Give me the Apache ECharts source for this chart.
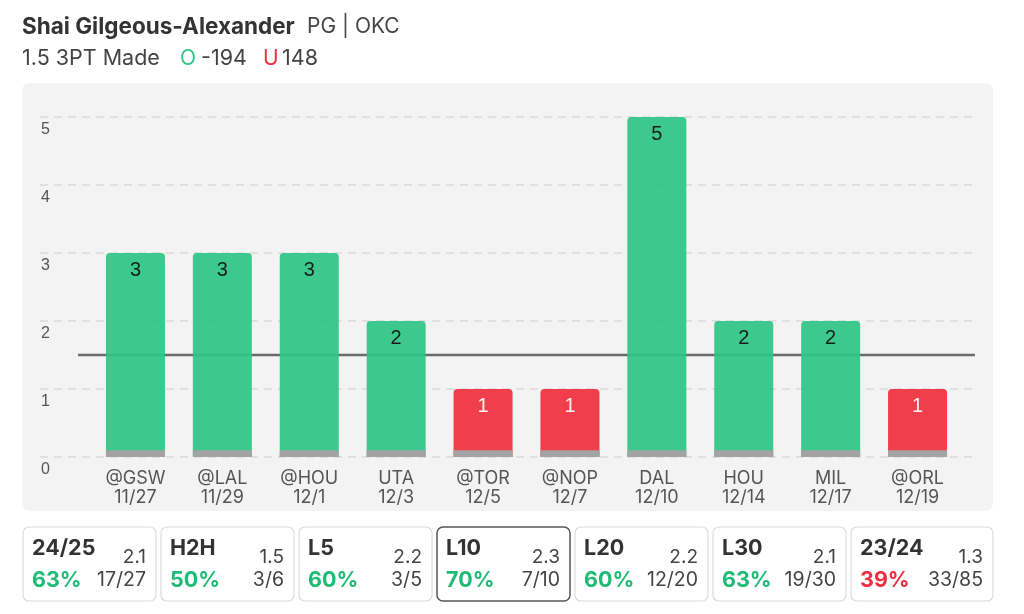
<!DOCTYPE html>
<html>
<head>
<meta charset="utf-8">
<script src="https://cdn.jsdelivr.net/npm/echarts@6/dist/echarts.min.js"></script>
<style>
html,body{margin:0;padding:0;background:#fff;}
#c{width:1024px;height:614px;}
</style>
</head>
<body>
<div id="c"></div>
<script>
// ---- data ----
const opponents = ['@GSW','@LAL','@HOU','UTA','@TOR','@NOP','DAL','HOU','MIL','@ORL'];
const dates = ['11/27','11/29','12/1','12/3','12/5','12/7','12/10','12/14','12/17','12/19'];
const threesMade = [3,3,3,2,1,1,5,2,2,1];
const propLine = 1.5;
const yTicks = [0,1,2,3,4,5];
const baseStrip = 0.1;

const playerName = 'Shai Gilgeous-Alexander';
const playerInfo = 'PG | OKC';
const propText = '1.5 3PT Made';
const overOdds = '-194';
const underOdds = '148';

const cardLabels = ['24/25','H2H','L5','L10','L20','L30','23/24'];
const cardAvgs = ['2.1','1.5','2.2','2.3','2.2','2.1','1.3'];
const cardPcts = [63,50,60,70,60,63,39];
const cardFracs = ['17/27','3/6','3/5','7/10','12/20','19/30','33/85'];
const selectedCard = 3;

// ---- style ----
const GREEN = '#2ec584';
const RED = '#ef2f40';
const PCT_GREEN = '#1fbb74';
const HEAD = '"Inter", "Noto Sans", sans-serif';
const AX = '"Liberation Sans", Arial, sans-serif';

const chart = echarts.init(document.getElementById('c'), null, {renderer:'canvas'});

const graphics = [
  {type:'rect', z:-100, shape:{x:22,y:83,width:971,height:428,r:8}, style:{fill:'#f3f3f3'}},
  {type:'text', x:22, y:27, style:{text:playerName, font:'bold 22.5px '+HEAD, fill:'#333', verticalAlign:'middle'}},
  {type:'text', x:307, y:27, style:{text:playerInfo, font:'21px '+HEAD, fill:'#444', verticalAlign:'middle'}},
  {type:'text', x:22, y:59, style:{text:propText, font:'21.5px '+HEAD, fill:'#444', verticalAlign:'middle'}},
  {type:'text', x:180, y:59, style:{text:'O', font:'21px '+HEAD, fill:GREEN, verticalAlign:'middle'}},
  {type:'text', x:201, y:59, style:{text:overOdds, font:'21.5px '+HEAD, fill:'#444', verticalAlign:'middle'}},
  {type:'text', x:263, y:59, style:{text:'U', font:'21px '+HEAD, fill:RED, verticalAlign:'middle'}},
  {type:'text', x:282, y:59, style:{text:underOdds, font:'21.5px '+HEAD, fill:'#444', verticalAlign:'middle'}}
];

cardLabels.forEach((lab, i) => {
  const x = 23 + i*138;
  const w = i === cardLabels.length-1 ? 142 : 133;
  const sel = i === selectedCard;
  graphics.push({type:'rect', shape:{x:x,y:527,width:w,height:74,r:6},
    style:{fill:'#fff', stroke: sel ? '#555' : '#dcdcdc', lineWidth: sel ? 1.5 : 1.2}});
  graphics.push({type:'text', x:x+9, y:549, style:{text:lab, font:'bold 21.5px '+HEAD, fill:'#333', verticalAlign:'middle'}});
  graphics.push({type:'text', x:x+w-10, y:557, style:{text:cardAvgs[i], font:'19px '+HEAD, fill:'#444', align:'right', verticalAlign:'middle'}});
  graphics.push({type:'text', x:x+9, y:581, style:{text:cardPcts[i]+'%', font:'bold 21.5px '+HEAD, fill: cardPcts[i] >= 50 ? PCT_GREEN : RED, verticalAlign:'middle'}});
  graphics.push({type:'text', x:x+w-10, y:580, style:{text:cardFracs[i], font:'19.5px '+HEAD, fill:'#444', align:'right', verticalAlign:'middle'}});
});

const option = {
  animation:false,
  backgroundColor:'#fff',
  graphic:{elements:graphics},
  grid:[
    {left:40, right:49, top:117, height:340},
    {left:92, right:63, top:117, height:340},
    {left:78, right:49, top:117, height:340}
  ],
  xAxis:[
    {gridIndex:0, type:'value', min:0, max:1, show:false},
    {gridIndex:1, type:'category', data:opponents.map((o,i)=>o+'\n'+dates[i]),
      axisLine:{show:false}, axisTick:{show:false},
      axisLabel:{color:'#555', fontSize:18, fontFamily:HEAD, lineHeight:19, margin:12}},
    {gridIndex:2, type:'category', data:['a','b'], boundaryGap:false, show:false}
  ],
  yAxis:[
    {gridIndex:0, type:'value', min:yTicks[0], max:yTicks[yTicks.length-1], interval:1,
      axisLine:{show:false}, axisTick:{show:false},
      splitLine:{show:true, lineStyle:{color:'#dadada', width:1.5, type:[8,6]}},
      axisLabel:{inside:true, margin:1, color:'#555', fontSize:16, fontFamily:AX, verticalAlign:'top', padding:[5,0,0,0]}},
    {gridIndex:1, type:'value', min:0, max:5, show:false},
    {gridIndex:2, type:'value', min:0, max:5, show:false}
  ],
  series:[
    {type:'line', xAxisIndex:2, yAxisIndex:2, data:[propLine, propLine], symbol:'none', z:1,
      lineStyle:{color:'#6a6a6a', width:2.5}},
    {type:'bar', xAxisIndex:1, yAxisIndex:1, barWidth:59, z:3,
      data:threesMade.map(v=>({value:v, itemStyle:{color: v > propLine ? GREEN : RED},
        label:{color: v > propLine ? '#111' : '#fff'}})),
      itemStyle:{borderRadius:[4,4,0,0], opacity:0.93},
      label:{show:true, position:'insideTop', distance:7, fontSize:20, fontFamily:AX}},
    {type:'bar', xAxisIndex:1, yAxisIndex:1, barWidth:59, barGap:'-100%', z:4,
      data:threesMade.map(()=>baseStrip), itemStyle:{color:'#a3a3a3'}, silent:true}
  ]
};
chart.setOption(option);
</script>
</body>
</html>
